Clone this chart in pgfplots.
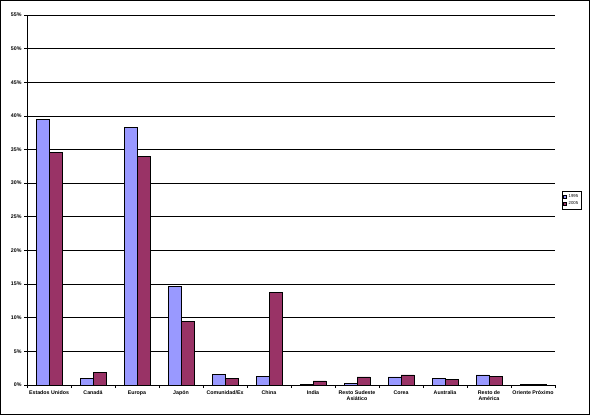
\documentclass[border=0pt]{standalone}
\usepackage{fontspec}
\setmainfont{Liberation Sans}
\usepackage{pgfplots}
\pgfplotsset{compat=1.18}
\definecolor{c95}{HTML}{9999FF}
\definecolor{c05}{HTML}{993366}
\begin{document}
\begin{tikzpicture}[x=1bp,y=1bp]
\draw[line width=1bp] (0.5,0.5) rectangle (589.5,414.5);
\begin{axis}[
  at={(27bp,30bp)}, anchor=south west,
  scale only axis, width=528bp, height=370bp,
  ybar=0pt, bar width=13bp,
  xmin=-0.5, xmax=11.5, ymin=0, ymax=55,
  ytick={0,5,...,55},
  yticklabel={\pgfmathprintnumber{\tick}\%},
  /pgf/number format/assume math mode=true,
  xtick={-0.5,0.5,...,11.5},
  x tick label as interval,
  xticklabels={Estados Unidos,Canadá,Europa,Japón,Comunidad/Ex,China,India,{Resto Sudeste\\Asiático},Corea,Australia,{Resto de\\América},Oriente Próximo},
  x tick label style={align=center, font=\fontsize{5.3}{6}\selectfont\bfseries, yshift=1bp},
  y tick label style={font=\fontsize{5.3}{6}\selectfont\bfseries, xshift=1bp},
  axis x line=bottom, axis y line=left,
  axis line style={-, line width=0.8bp},
  ymajorgrids, grid style={black, line width=0.8bp},
  tick style={black, line width=0.8bp},
  tick align=outside, major tick length=3bp,
  legend style={at={(1,0.5)}, anchor=west, xshift=7bp, font=\fontsize{4.3}{5}\selectfont, draw=black, line width=0.6bp, inner sep=1bp, row sep=-1bp},
  legend image code/.code={\draw[#1, line width=0.4bp] (0bp,-1.5bp) rectangle (3bp,1.5bp);},
]
\addplot[fill=c95, draw=black, line width=0.8bp] coordinates {
(0,39.5) (1,1.0) (2,38.3) (3,14.6) (4,1.6) (5,1.3) (6,0.1) (7,0.2) (8,1.2) (9,1.0) (10,1.5) (11,0.1)};
\addplot[fill=c05, draw=black, line width=0.8bp] coordinates {
(0,34.6) (1,1.8) (2,34.0) (3,9.5) (4,1.0) (5,13.7) (6,0.6) (7,1.2) (8,1.5) (9,0.8) (10,1.3) (11,0.1)};
\legend{1995,2005}
\end{axis}
\end{tikzpicture}
\end{document}
